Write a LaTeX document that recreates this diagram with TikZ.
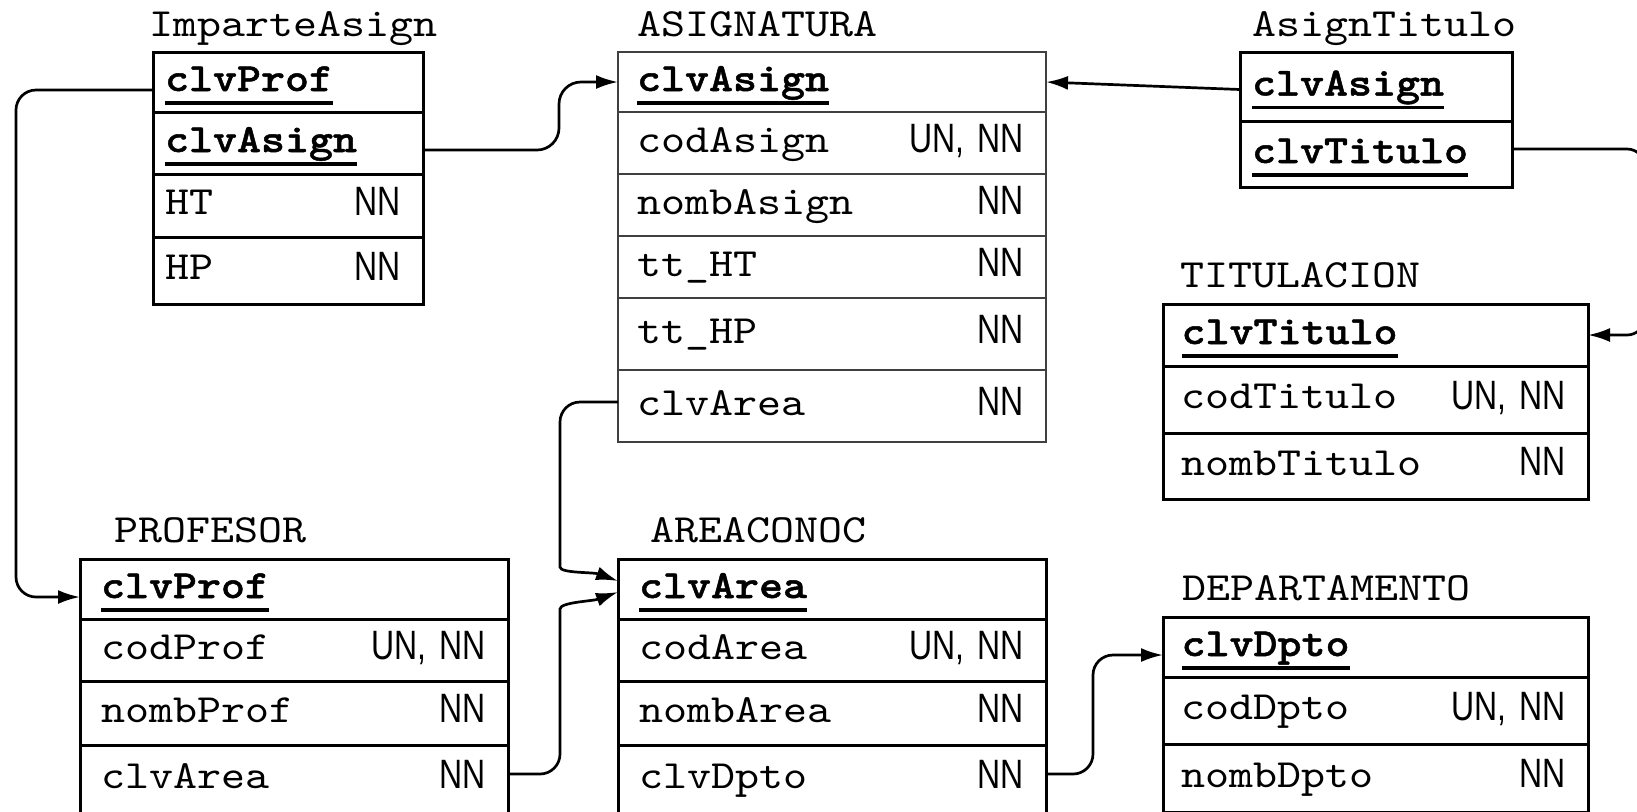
\documentclass[tikz,border=0pt]{standalone}
\usepackage{fontspec}
\setmonofont{lmmono10-regular}[Extension=.otf, BoldFont=lmmonolt10-bold, FakeStretch=1.143, BoldFeatures={FakeBold=1.2}]
\newfontfamily\restrfont[FakeStretch=0.78]{Liberation Sans}
\usetikzlibrary{positioning,arrows.meta}
% clave primaria: negrita y subrayado grueso
\newcommand{\clave}[1]{\setbox0\hbox{\bfseries #1}\rlap{\copy0}\rule[-6.8pt]{\wd0}{1.6pt}}
\begin{document}
\begin{tikzpicture}
	[x=0.5pt, y=-0.5pt,
	every node/.style={font=\ttfamily\fontsize{20}{24}\selectfont},
	fila/.style={draw, line width=1.5pt, outer sep=0pt, inner ysep=0pt, align=left, text height=13pt, text depth=4pt},
	imp/.style={fila, text width=123pt, inner xsep=6pt},
	asig/.style={fila, draw=black!75, line width=.8pt, text width=195pt, inner xsep=9.5pt},
	atit/.style={fila, text width=124pt, inner xsep=6pt},
	tabla/.style={fila, text width=193pt, inner xsep=10.5pt},
	dpto/.style={fila, text width=194pt, inner xsep=9.25pt},
	restr/.style={font=\restrfont\fontsize{20.5}{24}\selectfont, anchor=base east, inner sep=0pt, xshift=-11pt, yshift=-4.8pt},
	titulo/.style={anchor=base west, inner sep=0pt},
	rel/.style={line width=1.35pt, -{Latex[length=11pt,width=7pt]}, rounded corners=10pt}]
	\useasboundingbox (0,0) rectangle (1637,811);

	% ImparteAsign
	\node[imp, anchor=north west, minimum height=30pt] (imp-prof) at (153,52) {\clave{clvProf}};
	\node[imp, minimum height=31pt, below=0pt of imp-prof] (imp-asig) {\clave{clvAsign}};
	\node[imp, minimum height=31.5pt, below=0pt of imp-asig, label={[restr]east:NN}] (imp-ht) {HT};
	\node[imp, minimum height=33.5pt, below=0pt of imp-ht, label={[restr]east:NN}] (imp-hp) {HP};
	\node[titulo] (imp-t) at ([xshift=-2pt,yshift=8pt]imp-prof.north west) {ImparteAsign};

	% ASIGNATURA
	\node[asig, anchor=north west, minimum height=30pt] (asig-clv) at (618,52) {\clave{clvAsign}};
	\node[asig, minimum height=31pt, below=0pt of asig-clv, label={[restr]east:{UN,\kern2pt{} NN}}] (asig-cod) {codAsign};
	\node[asig, minimum height=31pt, below=0pt of asig-cod, label={[restr]east:NN}] (asig-nomb) {nombAsign};
	\node[asig, minimum height=31pt, below=0pt of asig-nomb, label={[restr]east:NN}] (asig-ht) {tt\_HT};
	\node[asig, minimum height=36pt, below=0pt of asig-ht, label={[restr]east:NN}] (asig-hp) {tt\_HP};
	\node[asig, minimum height=36pt, below=0pt of asig-hp, label={[restr]east:NN}] (asig-area) {clvArea};
	\node[titulo] (asig-t) at ([xshift=9.5pt,yshift=8pt]asig-clv.north west) {ASIGNATURA};

	% AsignTitulo
	\node[atit, anchor=north west, minimum height=34.5pt] (atit-asig) at (1240,52) {\clave{clvAsign}};
	\node[atit, minimum height=33pt, below=0pt of atit-asig] (atit-tit) {\clave{clvTitulo}};
	\node[titulo] (atit-t) at ([xshift=6pt,yshift=8pt]atit-asig.north west) {AsignTitulo};

	% TITULACION
	\node[dpto, anchor=north west, minimum height=31pt] (titu-clv) at (1163,304) {\clave{clvTitulo}};
	\node[dpto, minimum height=33.5pt, below=0pt of titu-clv, label={[restr]east:{UN,\kern2pt{} NN}}] (titu-cod) {codTitulo};
	\node[dpto, minimum height=33pt, below=0pt of titu-cod, label={[restr]east:NN}] (titu-nomb) {nombTitulo};
	\node[titulo] (titu-t) at ([xshift=8.5pt,yshift=8.5pt]titu-clv.north west) {TITULACION};

	% PROFESOR
	\node[tabla, anchor=north west, minimum height=30pt] (prof-clv) at (80,559) {\clave{clvProf}};
	\node[tabla, minimum height=31pt, below=0pt of prof-clv, label={[restr]east:{UN,\kern2pt{} NN}}] (prof-cod) {codProf};
	\node[tabla, minimum height=32pt, below=0pt of prof-cod, label={[restr]east:NN}] (prof-nomb) {nombProf};
	\node[tabla, minimum height=34pt, below=0pt of prof-nomb, label={[restr]east:NN}] (prof-area) {clvArea};
	\node[titulo] (prof-t) at ([xshift=17pt,yshift=8.5pt]prof-clv.north west) {PROFESOR};

	% AREACONOC
	\node[tabla, anchor=north west, minimum height=30pt] (area-clv) at (618,559) {\clave{clvArea}};
	\node[tabla, minimum height=31pt, below=0pt of area-clv, label={[restr]east:{UN,\kern2pt{} NN}}] (area-cod) {codArea};
	\node[tabla, minimum height=32pt, below=0pt of area-cod, label={[restr]east:NN}] (area-nomb) {nombArea};
	\node[tabla, minimum height=34pt, below=0pt of area-nomb, label={[restr]east:NN}] (area-dpto) {clvDpto};
	\node[titulo] (area-t) at ([xshift=16pt,yshift=8.5pt]area-clv.north west) {AREACONOC};

	% DEPARTAMENTO
	\node[dpto, anchor=north west, minimum height=30pt] (dep-clv) at (1163,617) {\clave{clvDpto}};
	\node[dpto, minimum height=33.5pt, below=0pt of dep-clv, label={[restr]east:{UN,\kern2pt{} NN}}] (dep-cod) {codDpto};
	\node[dpto, minimum height=34pt, below=0pt of dep-cod, label={[restr]east:NN}] (dep-nomb) {nombDpto};
	\node[titulo] (dep-t) at ([xshift=9.5pt,yshift=8.5pt]dep-clv.north west) {DEPARTAMENTO};

	% claves ajenas
	\draw[rel] ([yshift=-4pt]imp-prof.west) -- ++(-137,0) |- ([yshift=-4pt]prof-clv.west);
	\draw[rel, rounded corners=11pt] ([yshift=-3.5pt]imp-asig.east) -- ++(136,0) |- (asig-clv.east -| asig-clv.west);
	\draw[rel] ([yshift=-1.5pt]atit-asig.west) -- (asig-clv.east);
	\draw[rel, rounded corners=9pt] ([yshift=2.5pt]atit-tit.east) -- ++(133,0) |- (titu-clv.east);
	\draw[rel] ([yshift=2pt]asig-area.west) -- ++(-58,0) -- ++(0,145) to[out=-90,in=160] ([yshift=4pt]area-clv.west);
	\draw[rel] ([yshift=2.5pt]prof-area.east) -- ++(52,0) -- ++(0,-145) to[out=90,in=200] ([yshift=-1.5pt]area-clv.west);
	\draw[rel] ([yshift=2.5pt]area-dpto.east) -- ++(47,0) |- ([yshift=-4pt]dep-clv.west);
\end{tikzpicture}
\end{document}
